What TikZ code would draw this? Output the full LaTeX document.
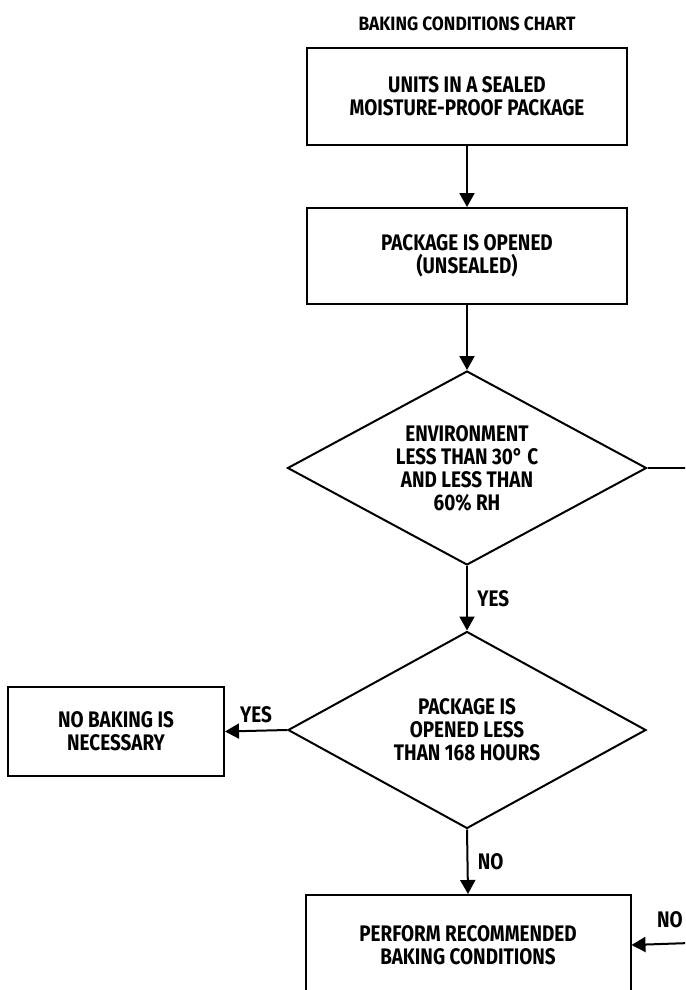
\documentclass[tikz,border=0pt]{standalone}
\usepackage{fontspec}
\setmainfont{Fira Sans}[FakeStretch=0.84]
\newfontfamily\titlefont{Fira Sans}[FakeStretch=0.9]
\usetikzlibrary{shapes.geometric,arrows.meta}
\begin{document}
\begin{tikzpicture}[x=1pt,y=-1pt, line width=2pt,
box/.style={draw, rectangle, align=center, font=\fontsize{22.5}{23}\selectfont\bfseries},
decision/.style={draw, diamond, aspect=1.85, inner sep=0pt, align=center, font=\fontsize{22.5}{23}\selectfont\bfseries},
flow/.style={-{Triangle[length=14pt,width=15pt]}},
tag/.style={font=\fontsize{22.5}{23}\selectfont\bfseries}]
\useasboundingbox (0,0) rectangle (685,990);
\clip (0,0) rectangle (685,990);
\node[font=\titlefont\fontsize{19.3}{20}\selectfont\bfseries] (title) at (467,24) {BAKING CONDITIONS CHART};
\node[box, minimum width=320pt, minimum height=97pt] (sealed) at (467,96.5)
	{UNITS IN A SEALED\\MOISTURE-PROOF PACKAGE};
\node[box, minimum width=320pt, minimum height=96pt] (opened) at (467,256)
	{PACKAGE IS OPENED\\(UNSEALED)};
\node[decision, minimum width=359pt, minimum height=194pt] (env) at (467,468)
	{ENVIRONMENT\\LESS THAN 30\textdegree\ C\\AND LESS THAN\\60\% RH};
\node[decision, minimum width=358pt, minimum height=197pt] (hours) at (467,730)
	{PACKAGE IS\\OPENED LESS\\THAN 168 HOURS};
\node[box, minimum width=216pt, minimum height=89pt] (nobake) at (116,731.5)
	{NO BAKING IS\\NECESSARY};
\node[box, minimum width=325pt, minimum height=100pt] (bake) at (468,945)
	{PERFORM RECOMMENDED\\BAKING CONDITIONS};
\coordinate (envout) at (690,468);
\coordinate (noin) at (690,943);
% connectors
\draw[flow] (sealed) -- (opened);
\draw[flow] (opened) -- (env);
\draw[flow] (env.south) -- node[tag, right=6pt] {YES} (hours.north);
\draw[flow] (hours.west) -- node[tag, above=4pt] {YES} (nobake.east);
\draw[flow] (hours.south) -- node[tag, right=6pt] {NO} (bake.north);
\draw (env.east) -- (envout);
\draw[flow] (noin) -- (bake.east);
\node[tag] (nolabel) at (670,920) {NO};
\end{tikzpicture}
\end{document}
